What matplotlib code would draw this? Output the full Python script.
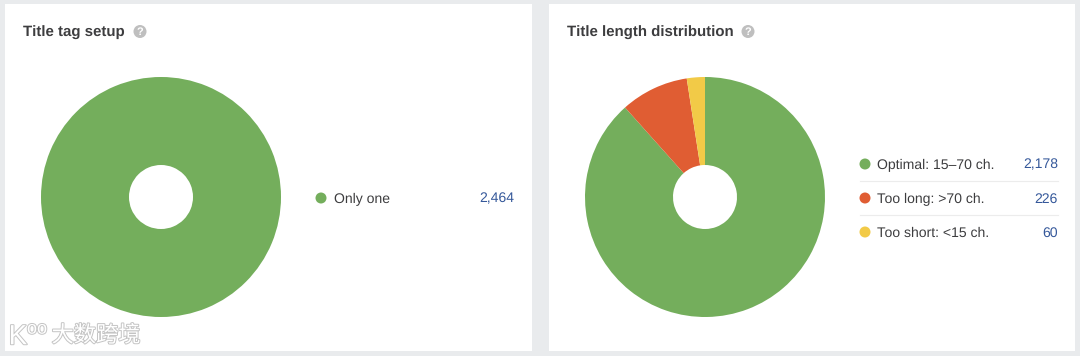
import matplotlib
matplotlib.use("Agg")
import matplotlib.pyplot as plt
import matplotlib.patheffects as pe
from matplotlib.patches import Rectangle, Circle

W, H = 1080, 356
BG = "#e9ebed"
INK = "#3d3d3f"
BLUE = "#35589a"
HELP = "#bfbfbf"
RULE = "#ececec"

left_title = "Title tag setup"
left_labels = ["Only one"]
left_values = [2464]
left_colors = ["#74ae5c"]

right_title = "Title length distribution"
right_labels = ["Optimal: 15–70 ch.", "Too long: >70 ch.", "Too short: <15 ch."]
right_values = [2178, 226, 60]
right_colors = ["#74ae5c", "#e05d33", "#f2ca47"]

plt.rcParams["font.family"] = ["Liberation Sans", "DejaVu Sans"]
plt.rcParams["text.hinting"] = "no_hinting"
plt.rcParams["text.hinting_factor"] = 1
fig = plt.figure(figsize=(W / 100, H / 100), dpi=100, facecolor=BG)
bg = fig.add_axes([0, 0, 1, 1])
bg.set_xlim(0, W)
bg.set_ylim(H, 0)
bg.axis("off")


def panel(x0, x1, title, hx, labels, values, colors, cx, cy, r, hole,
          lx, tx, vx, rx, ys):
    bg.add_patch(Rectangle((x0, 4), x1 - x0, 347, fc="white", ec="none"))
    bg.text(x0 + 18, 33, title, fontsize=11, fontweight="bold", color=INK,
            va="center", ha="left")
    bg.add_patch(Circle((hx, 31.5), 6.5, fc=HELP, ec="none"))
    bg.text(hx, 32, "?", fontsize=8, fontweight="bold", color="white",
            va="center", ha="center")
    ax = fig.add_axes([(cx - r) / W, 1 - (cy + r) / H, 2 * r / W, 2 * r / H])
    ax.pie(values, colors=colors, startangle=90, counterclock=False,
           radius=1, wedgeprops=dict(width=1 - hole / r, linewidth=0))
    ax.set_xlim(-1, 1)
    ax.set_ylim(-1, 1)
    for i, (lab, val, col, y) in enumerate(zip(labels, values, colors, ys)):
        bg.add_patch(Circle((lx, y), 5.5, fc=col, ec="none"))
        bg.text(tx, y + 1, lab, fontsize=10.4, color=INK, va="center", ha="left")
        bg.text(vx, y + 1, f"{val:,}", fontsize=10.4, color=BLUE, va="center", ha="right")
        if i < len(labels) - 1:
            bg.plot([rx, vx], [y + 17, y + 17], color=RULE, lw=0.8)


panel(5, 532, left_title, 140, left_labels, left_values, left_colors,
      161, 197, 120, 32, 321, 334, 514, 316, [198])
panel(549, 1075, right_title, 748, right_labels, right_values, right_colors,
      705, 197, 120, 32, 865, 877, 1058, 860, [164, 198, 232])

# Watermark
halo = [pe.withStroke(linewidth=1.4, foreground="#c4c4c4")]
bg.text(96, 335.5, "大数跨境", fontsize=16, color="white",
        family=["Noto Sans CJK SC", "DejaVu Sans"], va="center", ha="center",
        path_effects=halo)
bg.text(18, 337, "K", fontsize=20, color="white", va="center", ha="center",
        path_effects=halo)
bg.text(37, 329, "oo", fontsize=13, color="white", va="center", ha="center",
        path_effects=halo)

fig.savefig("out.png", dpi=100, facecolor=BG)
